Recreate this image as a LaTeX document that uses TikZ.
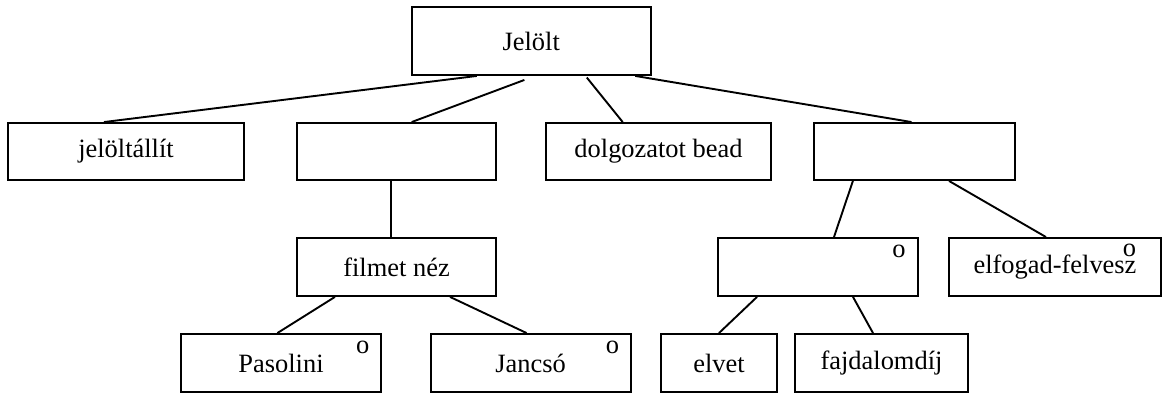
\documentclass[tikz,border=0pt]{standalone}
\usepackage{fontspec}
\setmainfont{Liberation Serif}
\usepackage{tikz}
\usetikzlibrary{positioning,calc}

\begin{document}
\begin{tikzpicture}[
    every node/.style={font=\fontsize{18.8}{22}\selectfont},
    box/.style={draw, line width=1.35pt, minimum height=1.425cm,
                inner sep=0pt, align=center},
    flag/.style={inner sep=0pt, anchor=center},
    edge/.style={line width=1.35pt}]
  \useasboundingbox (0,0) rectangle (29.175,-9.85);
  % root
  \node[box, minimum width=5.975cm, minimum height=1.7cm] (jel) at (13.28,-1.025) {Jelölt};
  % first level
  \node[box, minimum width=5.9cm]   (all)  at (3.15,-3.7875)    {jelöltállít};
  \node[box, minimum width=4.975cm] (film0) at (9.9125,-3.7875) {};
  \node[box, minimum width=5.625cm] (dolg) at (16.4625,-3.7875) {dolgozatot bead};
  \node[box, minimum width=5.025cm] (dont) at (22.8625,-3.7875) {};
  % second level
  \node[box, minimum width=4.975cm, minimum height=1.45cm] (film) at (9.9125,-6.675) {filmet néz};
  \node[box, minimum width=5.0cm, minimum height=1.45cm]   (elut) at (20.45,-6.675)  {};
  \node[box, minimum width=5.3cm, minimum height=1.45cm]   (elf)  at (26.375,-6.675) {elfogad-felvesz};
  % third level
  \node[box, minimum width=5.0cm, minimum height=1.45cm]   (pas)  at (7.025,-9.075)   {Pasolini};
  \node[box, minimum width=5.0cm, minimum height=1.45cm]   (janc) at (13.265,-9.075)  {Jancsó};
  \node[box, minimum width=2.9cm, minimum height=1.45cm]   (elv)  at (17.975,-9.075)  {elvet};
  \node[box, minimum width=4.325cm, minimum height=1.45cm] (fajd) at (22.0375,-9.075) {fajdalomdíj};
  % o marks
  \node[flag] (opas)  at ([xshift=-0.48cm,yshift=-0.36cm]pas.north east)   {o};
  \node[flag] (ojanc) at ([xshift=-0.475cm,yshift=-0.36cm]janc.north east) {o};
  \node[flag] (oelut) at ([xshift=-0.5cm,yshift=-0.36cm]elut.north east)   {o};
  \node[flag] (oelf)  at ([xshift=-0.81cm,yshift=-0.335cm]elf.north east)  {o};
  % connectors
  \draw[edge] ([xshift=-1.36cm]jel.south) -- ([xshift=-0.55cm]all.north);
  \draw[edge] ([xshift=-0.17cm,yshift=-0.1cm]jel.south) -- ([xshift=0.38cm]film0.north);
  \draw[edge] ([xshift=1.39cm,yshift=-0.04cm]jel.south) -- ([xshift=-0.895cm]dolg.north);
  \draw[edge] ([xshift=2.6cm]jel.south) -- ([xshift=-0.075cm]dont.north);
  \draw[edge] ([xshift=-0.1375cm]film0.south) -- ([xshift=-0.1375cm]film.north);
  \draw[edge] ([xshift=-1.54cm]film.south) -- ([xshift=-0.09cm]pas.north);
  \draw[edge] ([xshift=1.34cm]film.south) -- ([xshift=-0.1cm]janc.north);
  \draw[edge] ([xshift=-1.54cm]dont.south) -- ([xshift=0.4cm]elut.north);
  \draw[edge] ([xshift=0.8625cm]dont.south) -- ([xshift=-0.225cm]elf.north);
  \draw[edge] ([xshift=-1.525cm]elut.south) -- (elv.north);
  \draw[edge] ([xshift=0.875cm]elut.south) -- ([xshift=-0.2125cm]fajd.north);
\end{tikzpicture}
\end{document}
